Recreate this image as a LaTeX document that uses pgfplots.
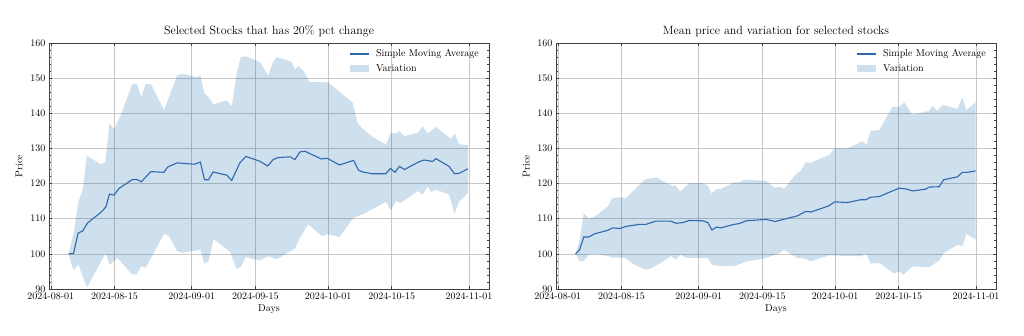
\documentclass[border=0pt]{standalone}
\usepackage{pgfplots}
\pgfplotsset{compat=1.18}
\usepgfplotslibrary{fillbetween}
\definecolor{smac}{HTML}{3068AC}
\definecolor{varc}{HTML}{0C5DA5}
\pgfplotsset{mystyle/.style={
  scale only axis, width=440pt, height=246pt,
  xmin=-0.4, xmax=96.4, ymin=90, ymax=160,
  xtick={0,14,31,45,61,75,92},
  xticklabels={2024-08-01,2024-08-15,2024-09-01,2024-09-15,2024-10-01,2024-10-15,2024-11-01},
  ytick={90,100,...,160},
  minor x tick num=3, minor y tick num=4,
  tick align=inside, tick pos=both,
  major tick length=3pt, minor tick length=1.6pt,
  every tick/.style={black!75, line width=0.5pt},
  grid=major, major grid style={black!22, line width=0.6pt},
  axis line style={black!75, line width=0.7pt},
  xlabel={Days}, ylabel={Price},
  xlabel style={yshift=2pt}, ylabel style={yshift=1pt},
  tick label style={font=\normalsize},
  title style={font=\large, yshift=-3pt},
  legend style={draw=none, fill=none, at={(0.982,0.99)}, anchor=north east, font=\normalsize,
    row sep=2pt, inner xsep=0pt, /tikz/every odd column/.append style={column sep=5pt}},
  legend cell align=left, reverse legend,
  fill between/on layer=main,
}}
\pgfplotsset{
  linelegend/.style={legend image code/.code={\draw[smac, line width=1.1pt] (0pt,0pt) -- (19pt,0pt);}},
  arealegend/.style={legend image code/.code={\fill[varc, fill opacity=0.2] (0pt,-3.5pt) rectangle (19pt,3.5pt);}},
}
\begin{document}
\begin{tikzpicture}
\begin{axis}[mystyle, at={(49pt,47pt)}, anchor=south west, title={Selected Stocks that has 20\% pct change}]
\addplot[name path=up1, draw=none, forget plot] coordinates {
(3.9,100.0) (5.0,105.7) (6.05,114.8) (7.0,118.1) (7.95,127.9) (11.0,125.5) (12.0,126.1) (12.9,137.2) (13.9,135.4) (15.4,139.4) (17.9,148.3) (18.9,148.4) (19.9,144.6) (20.9,148.4) (22.0,148.4) (24.9,140.9) (27.8,150.8) (28.9,151.3) (32.2,150.2) (32.9,150.9) (33.8,145.6) (34.7,144.6) (35.8,142.5) (38.7,143.7) (39.8,142.0) (40.9,151.3) (41.8,156.0) (42.9,156.2) (46.0,154.6) (47.8,150.7) (48.9,154.6) (49.7,156.0) (53.0,154.6) (53.7,152.4) (54.4,153.4) (55.5,152.2) (56.9,148.9) (61.0,148.8) (66.4,143.0) (67.5,137.1) (68.6,135.6) (70.8,133.3) (73.7,131.1) (74.8,134.5) (75.8,134.2) (76.7,134.9) (77.8,133.5) (80.7,134.4) (81.8,136.3) (82.9,134.2) (84.7,136.1) (88.0,132.8) (88.9,134.2) (89.8,131.2) (91.8,130.9)};
\addplot[name path=lo1, draw=none, forget plot] coordinates {
(3.9,100.0) (5.0,95.3) (6.05,97.0) (7.95,90.4) (12.1,100.3) (12.9,96.9) (14.7,98.8) (17.9,94.1) (18.9,94.2) (19.9,96.5) (20.9,96.1) (24.9,105.7) (26.0,105.1) (27.8,100.8) (28.9,100.3) (32.9,101.2) (33.8,97.2) (34.7,98.0) (35.8,104.2) (39.5,100.5) (40.8,95.8) (41.8,96.3) (42.9,99.1) (45.9,98.1) (47.8,99.3) (49.7,98.5) (53.7,101.5) (54.8,104.6) (56.6,108.4) (59.7,105.0) (60.8,105.6) (63.5,104.8) (66.6,110.3) (68.6,111.2) (73.7,114.8) (74.8,112.4) (75.9,115.0) (77.0,114.5) (80.7,117.9) (81.8,116.9) (82.9,119.2) (83.7,117.6) (84.7,118.3) (87.6,116.9) (88.8,111.4) (89.8,114.8) (91.8,117.4)};
\addplot[varc, fill opacity=0.2, draw=none, arealegend] fill between[of=up1 and lo1];
\addlegendentry{Variation}
\addplot[smac, line width=1.1pt, linelegend] coordinates {
(3.9,100.0) (5.0,100.1) (6.0,105.9) (7.0,106.5) (8.1,108.8) (11.0,111.8) (12.1,113.3) (12.9,117.0) (13.9,116.7) (15.0,118.6) (17.9,121.1) (18.9,121.2) (19.9,120.5) (22.0,123.4) (24.9,123.2) (25.7,124.7) (27.8,125.9) (31.6,125.5) (32.9,126.1) (33.8,121.1) (34.7,121.1) (35.7,123.3) (38.7,122.4) (39.8,120.9) (41.6,125.9) (42.9,127.7) (45.9,126.4) (47.7,125.0) (48.9,126.8) (50.0,127.4) (52.7,127.6) (53.7,126.8) (54.8,129.0) (55.9,129.2) (59.5,127.0) (60.8,127.2) (63.5,125.3) (66.6,126.6) (67.7,123.8) (68.6,123.3) (70.7,122.8) (73.7,122.8) (74.7,124.3) (75.7,123.2) (76.7,124.9) (77.8,124.0) (81.0,126.2) (82.1,126.7) (84.0,126.3) (84.7,127.1) (87.6,124.9) (88.8,122.8) (89.8,122.9) (91.8,124.2)};
\addlegendentry{Simple Moving Average}
\end{axis}
\begin{axis}[mystyle, at={(556pt,47pt)}, anchor=south west, title={Mean price and variation for selected stocks}]
\addplot[name path=up2, draw=none, forget plot] coordinates {
(3.9,100.0) (4.8,103.8) (5.7,111.6) (6.8,110.0) (8.1,110.6) (11.0,113.5) (11.9,115.8) (13.6,116.1) (15.0,115.9) (19.1,121.1) (21.6,121.8) (25.1,119.4) (26.0,119.4) (26.9,117.7) (28.9,120.1) (31.9,120.1) (33.0,119.4) (33.8,117.1) (34.9,118.5) (35.9,118.5) (38.8,120.4) (39.9,120.3) (41.0,121.1) (45.8,120.8) (47.6,118.8) (48.7,119.1) (49.8,118.5) (52.4,122.7) (53.5,123.7) (54.6,126.1) (55.5,125.9) (59.7,128.1) (60.9,130.1) (63.7,130.0) (67.0,132.0) (67.9,131.1) (68.8,135.0) (70.7,135.2) (73.6,141.8) (75.1,141.8) (76.2,143.1) (78.0,139.6) (81.7,140.7) (82.4,142.1) (83.5,140.7) (84.6,142.4) (87.9,141.2) (89.0,144.5) (89.9,140.9) (91.9,143.1)};
\addplot[name path=lo2, draw=none, forget plot] coordinates {
(3.9,100.0) (4.8,97.9) (5.7,97.9) (6.8,99.8) (8.1,100.0) (11.0,99.4) (12.1,98.9) (14.7,98.9) (16.5,97.2) (19.1,95.5) (20.2,95.7) (22.4,97.2) (24.9,99.4) (26.0,98.3) (26.9,99.8) (28.2,98.9) (31.9,98.8) (33.0,98.8) (33.9,96.9) (35.9,96.5) (38.8,96.5) (41.4,97.8) (45.8,98.8) (48.7,100.2) (49.8,101.2) (50.9,100.2) (52.7,98.8) (53.8,98.8) (55.7,97.9) (59.7,99.6) (60.9,99.5) (66.6,99.3) (67.9,100.0) (68.8,97.2) (70.7,97.4) (74.0,94.4) (75.1,95.1) (76.0,94.0) (78.0,96.4) (81.7,96.2) (83.9,98.1) (84.9,100.2) (87.9,102.6) (89.0,102.2) (89.9,105.7) (91.9,104.1)};
\addplot[varc, fill opacity=0.2, draw=none, arealegend] fill between[of=up2 and lo2];
\addlegendentry{Variation}
\addplot[smac, line width=1.1pt, linelegend] coordinates {
(3.9,100.0) (4.8,101.2) (5.7,104.8) (6.8,104.8) (8.1,105.7) (11.0,106.7) (12.1,107.4) (13.6,107.2) (15.0,107.8) (18.0,108.4) (19.4,108.4) (21.5,109.3) (24.9,109.3) (26.0,108.7) (27.5,108.9) (28.9,109.5) (31.9,109.4) (33.0,108.9) (33.9,106.8) (34.9,107.6) (35.9,107.4) (38.8,108.4) (39.9,108.6) (41.4,109.4) (45.8,109.8) (47.9,109.2) (48.7,109.5) (50.2,110.0) (52.7,110.8) (54.6,112.1) (55.7,111.9) (59.7,113.7) (60.9,114.8) (63.7,114.6) (66.6,115.4) (67.7,115.4) (68.8,116.1) (70.7,116.3) (75.1,118.7) (76.9,118.4) (78.0,117.9) (80.9,118.4) (81.7,119.0) (83.9,119.1) (84.9,121.1) (87.9,121.9) (89.0,123.2) (90.1,123.2) (91.9,123.6)};
\addlegendentry{Simple Moving Average}
\end{axis}
\pgfresetboundingbox
\path[use as bounding box] (0pt,0pt) rectangle (1024pt,336pt);
\end{tikzpicture}
\end{document}
